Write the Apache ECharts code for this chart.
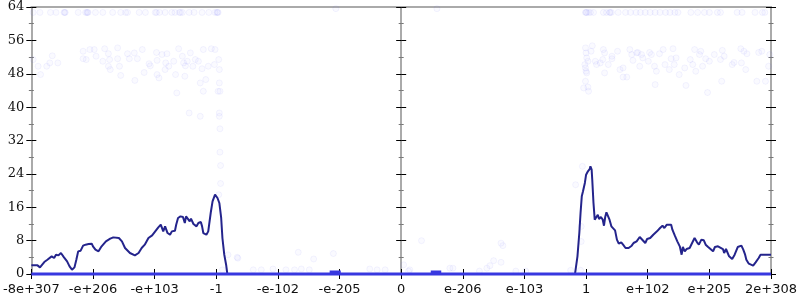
<!DOCTYPE html>
<html>
<head>
<meta charset="utf-8">
<script src="https://cdn.jsdelivr.net/npm/echarts@6/dist/echarts.min.js"></script>
<style>html,body{margin:0;padding:0;background:#fff}#c{width:800px;height:300px}</style>
</head>
<body>
<div id="c"></div>
<script>
// x positions: ordinal position in floating-point space (-6 .. 6)
const tickValues = [-6, -5, -4, -3, -2, -1, 0, 1, 2, 3, 4, 5, 6];
const tickLabels = ['-8e+307', '-e+206', '-e+103', '-1', '-e-102', '-e-205', '0', 'e-206', 'e-103', '1', 'e+102', 'e+205', '2e+308'];
const yTicks = [0, 8, 16, 24, 32, 40, 48, 56, 64];

const curveLeft = [[-6.0,2.07],[-5.90,2.07],[-5.86,1.59],[-5.79,2.87],[-5.74,3.43],[-5.71,3.03],[-5.67,4.23],[-5.63,3.83],[-5.60,4.63],[-5.56,4.47],[-5.52,5.03],[-5.50,4.63],[-5.47,3.99],[-5.42,3.03],[-5.38,1.83],[-5.34,1.03],[-5.30,1.59],[-5.27,3.43],[-5.24,5.43],[-5.20,5.59],[-5.16,6.79],[-5.12,7.03],[-5.07,7.19],[-5.02,7.27],[-5.00,6.63],[-4.96,5.83],[-4.93,6.23],[-4.91,5.43],[-4.86,6.63],[-4.83,6.63],[-4.79,7.83],[-4.76,7.43],[-4.72,8.47],[-4.67,8.78],[-4.58,8.63],[-4.53,7.83],[-4.48,6.23],[-4.40,5.03],[-4.32,4.47],[-4.26,5.03],[-4.21,6.23],[-4.18,6.63],[-4.16,7.03],[-4.13,6.63],[-4.10,8.63],[-4.08,8.78],[-4.04,9.26],[-3.99,10.22],[-3.94,11.18],[-3.90,11.82],[-3.87,11.42],[-3.86,10.22],[-3.83,11.42],[-3.82,11.82],[-3.79,9.82],[-3.75,9.42],[-3.72,10.22],[-3.67,10.38],[-3.65,11.82],[-3.62,13.43],[-3.58,13.82],[-3.54,13.66],[-3.51,12.22],[-3.49,13.82],[-3.46,14.06],[-3.43,12.62],[-3.41,13.26],[-3.37,11.98],[-3.32,11.42],[-3.29,12.22],[-3.25,12.46],[-3.23,11.42],[-3.21,9.82],[-3.16,9.42],[-3.13,10.22],[-3.09,14.62],[-3.06,17.42],[-3.02,19.02],[-3.00,19.42],[-2.98,18.22],[-2.95,17.02],[-2.92,13.43],[-2.90,8.63],[-2.87,4.63],[-2.84,2.23],[-2.82,0]];
const curveMiddle = [[-2.82,0],[2.75,0]];
const curveRight = [[2.75,0],[2.82,0],[2.83,1.03],[2.86,4.23],[2.89,9.82],[2.91,14.62],[2.93,18.62],[2.95,19.82],[2.98,21.82],[3.00,23.81],[3.03,24.61],[3.06,25.17],[3.07,25.81],[3.09,25.01],[3.10,22.6],[3.12,17.02],[3.14,13.02],[3.17,13.18],[3.19,14.22],[3.21,13.18],[3.24,13.66],[3.27,13.02],[3.29,11.58],[3.31,13.66],[3.33,14.78],[3.36,14.46],[3.38,13.02],[3.41,11.42],[3.44,11.02],[3.47,10.46],[3.50,8.23],[3.53,7.27],[3.57,7.59],[3.60,7.03],[3.64,6.23],[3.69,6.23],[3.74,6.79],[3.77,7.43],[3.80,7.27],[3.82,7.83],[3.87,8.87],[3.90,8.39],[3.93,8.63],[3.96,7.43],[3.99,8.39],[4.04,8.63],[4.09,9.42],[4.15,10.22],[4.20,11.02],[4.24,11.58],[4.27,11.02],[4.31,11.82],[4.34,11.42],[4.38,11.82],[4.40,10.62],[4.44,9.18],[4.48,7.83],[4.52,6.63],[4.55,4.63],[4.57,6.47],[4.60,5.43],[4.63,5.99],[4.68,6.23],[4.72,7.43],[4.76,8.63],[4.80,7.59],[4.83,7.03],[4.87,8.23],[4.91,8.07],[4.94,7.03],[4.98,6.47],[5.01,6.23],[5.06,5.43],[5.09,6.47],[5.14,6.63],[5.17,6.47],[5.22,5.99],[5.24,5.03],[5.27,5.99],[5.30,5.67],[5.32,4.23],[5.37,3.59],[5.41,4.63],[5.43,4.63],[5.46,6.47],[5.49,6.79],[5.52,6.79],[5.55,5.83],[5.58,4.63],[5.60,3.43],[5.64,2.47],[5.67,2.23],[5.71,1.99],[5.75,2.79],[5.80,3.83],[5.83,4.63],[5.91,4.63],[6.0,4.63]];

const baseline = [[-6,0],[6,0]];
const bumpNeg = [[-1.16,0.45],[-0.98,0.45]];
const bumpPos = [[0.48,0.45],[0.65,0.45]];

const scatterTop = [[-5.97,62.7],[-5.86,62.7],[-5.69,62.7],[-5.60,62.7],[-5.47,62.7],[-5.45,62.7],[-5.46,62.7],[-5.24,62.7],[-5.12,62.7],[-5.08,62.7],[-5.09,62.7],[-5.10,62.7],[-4.96,62.7],[-4.84,62.7],[-4.68,62.7],[-4.55,62.7],[-4.47,62.7],[-4.44,62.7],[-4.25,62.7],[-4.15,62.7],[-3.99,62.7],[-3.97,62.7],[-3.92,62.7],[-3.83,62.7],[-3.72,62.7],[-3.67,62.7],[-3.60,62.7],[-3.58,62.7],[-3.55,62.7],[-3.44,62.7],[-3.36,62.7],[-3.23,62.7],[-3.12,62.7],[-3.02,62.7],[-2.98,62.7],[-2.99,62.7],[-2.97,62.7],[-1.06,63.6],[0.58,63.6],[2.99,62.7],[3.00,62.7],[3.01,62.7],[3.04,62.7],[3.07,62.7],[3.12,62.7],[3.28,62.7],[3.33,62.7],[3.38,62.7],[3.39,62.7],[3.41,62.7],[3.52,62.7],[3.64,62.7],[3.72,62.7],[3.81,62.7],[3.88,62.7],[3.96,62.7],[4.04,62.7],[4.12,62.7],[4.20,62.7],[4.29,62.7],[4.36,62.7],[4.44,62.7],[4.49,62.7],[4.70,62.7],[4.81,62.7],[4.92,62.7],[5.00,62.7],[5.13,62.7],[5.18,62.7],[5.45,62.7],[5.53,62.7],[5.74,62.7],[5.86,62.7],[5.90,62.7]];

const scatterMid = [[-5.97,51.4],[-5.89,49.8],[-5.85,47.8],[-5.75,49.8],[-5.70,50.6],[-5.66,52.3],[-5.57,50.6],[-5.16,53.4],[-5.16,51.6],[-5.11,51.4],[-5.05,53.8],[-4.98,53.8],[-4.95,52.2],[-4.84,51.0],[-4.81,54.0],[-4.75,52.8],[-4.73,51.4],[-4.75,49.8],[-4.72,49.0],[-4.60,54.2],[-4.60,51.6],[-4.57,49.8],[-4.55,47.6],[-4.44,52.8],[-4.41,51.6],[-4.33,53.0],[-4.32,46.4],[-4.28,51.6],[-4.20,53.8],[-4.17,48.3],[-4.09,50.4],[-4.07,49.9],[-3.97,53.1],[-3.96,51.2],[-3.96,47.8],[-3.93,47.0],[-3.88,52.6],[-3.83,49.0],[-3.82,50.6],[-3.80,52.8],[-3.77,49.8],[-3.69,51.0],[-3.66,47.8],[-3.64,43.4],[-3.61,54.0],[-3.55,52.2],[-3.53,50.6],[-3.51,47.4],[-3.50,49.9],[-3.47,51.0],[-3.42,53.0],[-3.38,49.8],[-3.34,51.4],[-3.29,51.0],[-3.26,45.8],[-3.23,49.2],[-3.21,53.8],[-3.17,46.6],[-3.13,49.8],[-3.08,54.0],[-3.03,50.2],[-3.02,53.8],[-2.96,51.4],[-2.95,49.0],[-2.95,45.8],[-2.94,43.8],[-3.21,43.8],[-2.97,43.8],[-3.44,38.6],[-3.26,37.8],[-2.95,38.6],[-2.95,37.8],
[2.99,54.2],[3.00,53.0],[3.01,51.8],[2.98,50.2],[2.99,49.4],[3.00,48.6],[3.03,51.0],[3.08,53.4],[3.10,54.7],[3.15,51.0],[3.17,50.2],[3.23,50.6],[3.27,51.4],[3.28,53.8],[3.30,53.0],[3.30,48.2],[3.36,50.2],[3.42,52.2],[3.42,51.6],[3.51,53.4],[3.55,49.0],[3.60,49.4],[3.60,47.2],[3.66,47.2],[3.71,53.8],[3.74,52.6],[3.76,51.2],[3.82,53.0],[3.84,53.1],[3.87,49.8],[3.90,52.6],[3.92,51.8],[4.01,51.0],[4.03,53.1],[4.06,52.6],[4.11,49.8],[4.12,45.4],[4.14,48.6],[4.19,52.8],[4.25,53.8],[4.28,50.2],[4.35,49.0],[4.38,51.6],[4.41,54.0],[4.43,50.2],[4.46,51.8],[4.51,47.8],[4.60,49.4],[4.62,45.2],[4.69,51.4],[4.73,50.2],[4.76,53.8],[4.78,48.6],[4.84,52.6],[4.86,53.4],[4.89,49.8],[4.94,51.6],[4.97,43.5],[5.00,51.0],[5.08,52.6],[5.18,51.4],[5.20,46.2],[5.21,53.6],[5.24,52.2],[5.37,50.2],[5.40,50.7],[5.51,54.0],[5.52,50.6],[5.56,53.4],[5.59,49.0],[5.61,52.8],[5.77,46.2],[5.80,53.1],[5.85,53.4],[5.91,46.2],[5.96,49.8],[5.98,52.6],[2.96,44.6],[3.04,43.8],[3.01,48.2],[2.99,46.2],[3.03,44.8]];

const scatterLow = [[-2.94,34.8],[-2.94,29.2],[-2.93,26.0],[-2.93,21.7],[-2.96,19.0],[-2.81,4.6],[-2.66,4.0],[-2.90,1.0],[-2.65,3.8],[-1.67,5.2],[-1.42,3.6],[-1.10,4.9],[0.33,8.0],[0.04,2.2],[-2.40,1.0],[-2.27,1.0],[-2.08,1.2],[-1.87,1.0],[-1.73,1.0],[-1.62,1.2],[-1.49,1.0],[-0.51,1.2],[-0.39,1.0],[-0.26,1.0],[0.14,1.0],[0.79,1.4],[0.84,1.4],[1.27,0.7],[1.39,1.4],[1.44,2.0],[1.50,3.2],[1.62,7.4],[1.65,6.8],[1.62,2.8],[1.86,0.7],[2.02,0.7],[0.12,0.7],[2.92,11.4],[2.92,7.8],[2.75,0.9],[2.91,0.9],[2.94,25.8],[2.83,21.4]];

const chart = echarts.init(document.getElementById('c'), null, {renderer: 'canvas'});
const AX = '#aaaaaa';
const xLabelMap = {};
tickValues.forEach((v, i) => { xLabelMap[v] = tickLabels[i]; });

function xAx(extra) {
  return Object.assign({
    type: 'value', min: tickValues[0], max: tickValues[tickValues.length - 1], interval: 1,
    splitLine: {show: false},
    axisLine: {show: true, onZero: false, lineStyle: {color: AX, width: 2}},
    axisTick: {show: true, length: 5, lineStyle: {color: '#000', width: 1}},
    axisLabel: {show: false}
  }, extra);
}
function yAx(extra, tickInside, withLabel) {
  return Object.assign({
    type: 'value', min: yTicks[0], max: yTicks[yTicks.length - 1], interval: 8,
    splitLine: {show: false},
    axisTick: {show: true, inside: tickInside, length: 5, lineStyle: {color: '#000', width: 1}},
    minorTick: {show: true, splitNumber: 2, length: 2.5, lineStyle: {color: '#777', width: 1}},
    axisLabel: withLabel ? {show: true, margin: 7, fontFamily: 'DejaVu Serif', fontSize: 13, color: '#111'} : {show: false}
  }, extra);
}

const option = {
  animation: false,
  backgroundColor: '#fff',
  grid: {left: 28, right: 26, top: 7, bottom: 26, containLabel: false},
  xAxis: [
    xAx({position: 'bottom', axisTick: {show: true, inside: false, length: 5, lineStyle: {color: '#000', width: 1}},
      axisLabel: {show: true, margin: 9, fontFamily: 'DejaVu Sans', fontSize: 13, color: '#111',
        formatter: v => (xLabelMap[v] !== undefined ? xLabelMap[v] : '')}}),
    xAx({position: 'bottom', axisTick: {show: true, inside: true, length: 5, lineStyle: {color: '#000', width: 1}}}),
    xAx({position: 'top', axisTick: {show: false}})
  ],
  yAxis: [
    yAx({position: 'left', axisLine: {show: true, onZero: false, lineStyle: {color: AX, width: 2}}}, false, true),
    yAx({position: 'left', axisLine: {show: true, onZero: false, lineStyle: {color: AX, width: 2}}}, true, false),
    yAx({position: 'left', axisLine: {show: true, onZero: true, onZeroAxisIndex: 0, lineStyle: {color: AX, width: 2}}}, false, false),
    yAx({position: 'left', axisLine: {show: true, onZero: true, onZeroAxisIndex: 0, lineStyle: {color: AX, width: 2}}}, true, false),
    yAx({position: 'right', axisLine: {show: true, onZero: false, lineStyle: {color: AX, width: 2}}}, false, false),
    yAx({position: 'right', axisLine: {show: true, onZero: false, lineStyle: {color: AX, width: 2}}}, true, false)
  ],
  series: [
    {type: 'scatter', data: scatterTop.concat(scatterMid, scatterLow), symbol: 'circle', symbolSize: 6,
     itemStyle: {color: 'rgba(110,110,250,0.045)', borderColor: 'rgba(100,100,240,0.09)', borderWidth: 1}, z: 1, silent: true},
    {type: 'line', data: curveLeft.concat(curveMiddle, curveRight), showSymbol: false, symbol: 'none',
     lineStyle: {color: '#24248c', width: 2}, z: 3, silent: true},
    {type: 'line', data: baseline, showSymbol: false, symbol: 'none', clip: false,
     lineStyle: {color: '#3838e0', width: 3}, z: 4, silent: true},
    {type: 'line', data: bumpNeg, showSymbol: false, symbol: 'none',
     lineStyle: {color: '#3838e0', width: 3}, z: 4, silent: true},
    {type: 'line', data: bumpPos, showSymbol: false, symbol: 'none',
     lineStyle: {color: '#3838e0', width: 3}, z: 4, silent: true}
  ]
};
chart.setOption(option);
</script>
</body>
</html>
